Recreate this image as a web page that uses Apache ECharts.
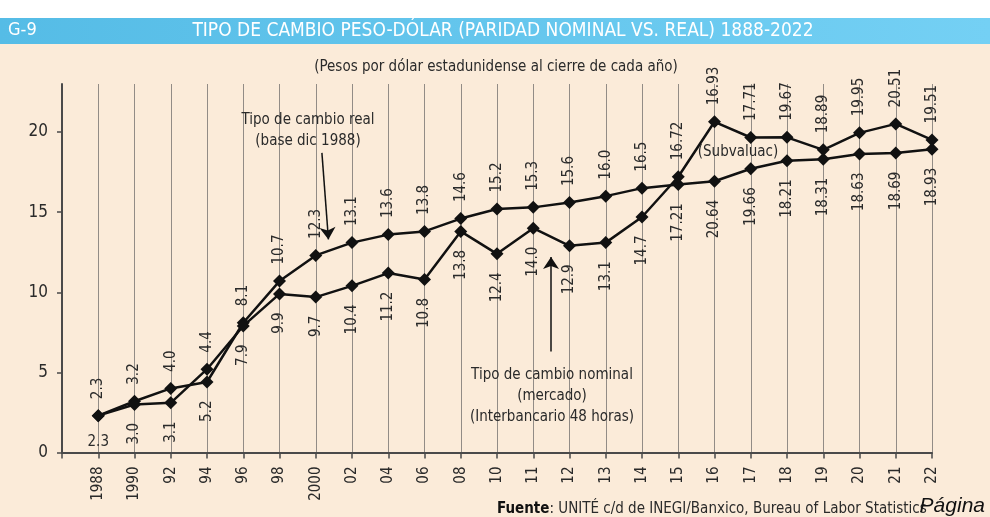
<!DOCTYPE html>
<html>
<head>
<meta charset="utf-8">
<script src="https://cdn.jsdelivr.net/npm/echarts@6/dist/echarts.min.js"></script>
<style>
html,body{margin:0;padding:0;background:#fbebd9;}
#chart{width:990px;height:517px;}
</style>
</head>
<body>
<div id="chart"></div>
<script>
// ---- data ----
const years = ['1988','1990','92','94','96','98','2000','02','04','06','08','10','11','12','13','14','15','16','17','18','19','20','21','22'];
const realRate = [2.3,3.2,4.0,4.4,8.1,10.7,12.3,13.1,13.6,13.8,14.6,15.2,15.3,15.6,16.0,16.5,16.72,16.93,17.71,18.21,18.31,18.63,18.69,18.93];
const nominalRate = [2.3,3.0,3.1,5.2,7.9,9.9,9.7,10.4,11.2,10.8,13.8,12.4,14.0,12.9,13.1,14.7,17.21,20.64,19.66,19.67,18.89,19.95,20.51,19.51];
const upperLabels = ['2.3','3.2','4.0','4.4','8.1','10.7','12.3','13.1','13.6','13.8','14.6','15.2','15.3','15.6','16.0','16.5','16.72','16.93','17.71','19.67','18.89','19.95','20.51','19.51'];
const lowerLabels = ['2.3','3.0','3.1','5.2','7.9','9.9','9.7','10.4','11.2','10.8','13.8','12.4','14.0','12.9','13.1','14.7','17.21','20.64','19.66','18.21','18.31','18.63','18.69','18.93'];
const yTicks = [0,5,10,15,20];

const FONT = "'Liberation Sans Narrow','DejaVu Sans Condensed','Roboto Condensed','Liberation Sans',sans-serif";
const TXT = '#2a2a2a';

function buildData(own, other){
  return own.map((v,i)=>{
    const isUpper = own === realRate ? v >= other[i] : v > other[i];
    let label;
    if (isUpper) {
      label = {show:true, formatter: upperLabels[i], position:'top', rotate:90, align:'left', verticalAlign:'middle', distance:10};
    } else if (i === 0) {
      label = {show:true, formatter: lowerLabels[i], position:'bottom', rotate:0, align:'center', verticalAlign:'top', distance:12};
    } else {
      label = {show:true, formatter: lowerLabels[i], position:'bottom', rotate:90, align:'right', verticalAlign:'middle', distance:12};
    }
    return {value:[i, v], label};
  });
}

const lineStyleCommon = {
  type:'line', symbol:'diamond', symbolSize:13,
  lineStyle:{color:'#111', width:2.5},
  itemStyle:{color:'#111'},
  label:{fontFamily:FONT, fontSize:15, color:TXT},
  z:5
};

const chart = echarts.init(document.getElementById('chart'), null, {renderer:'canvas'});
chart.setOption({
  backgroundColor:'#fbebd9',
  animation:false,
  grid:{left:62, right:58, top:84, bottom:64.5},
  xAxis:{
    type:'value', min:-1, max:23, interval:1,
    axisLine:{show:true, onZero:false, lineStyle:{color:'#4a4a4a', width:2}},
    axisTick:{show:true, length:6, lineStyle:{color:'#4a4a4a', width:1.5}},
    splitLine:{show:true, lineStyle:{color:'#928c86', width:1}},
    axisLabel:{
      rotate:90, margin:14, fontFamily:FONT, fontSize:15, color:TXT,
      formatter:(v)=> (v>=0 && v<years.length) ? years[v] : ''
    }
  },
  yAxis:{
    type:'value', min:0, max:23, interval:5,
    axisLine:{show:true, onZero:false, lineStyle:{color:'#4a4a4a', width:2}},
    axisTick:{show:true, inside:false, length:5, customValues:yTicks, lineStyle:{color:'#4a4a4a', width:1.5}},
    splitLine:{show:false},
    axisLabel:{customValues:yTicks, margin:14, fontFamily:FONT, fontSize:17, color:TXT}
  },
  series:[
    Object.assign({}, lineStyleCommon, {
      name:'Tipo de cambio real',
      data:buildData(realRate, nominalRate),
      markLine:{
        silent:true, symbol:['none','arrow'], symbolSize:12,
        label:{show:false},
        lineStyle:{color:'#111', width:1.5, type:'solid'},
        itemStyle:{color:'#111'},
        data:[
          [{coord:[6.17,18.7]},{coord:[6.35,13.3]}],
          [{coord:[12.49,6.3]},{coord:[12.49,12.2]}]
        ]
      }
    }),
    Object.assign({}, lineStyleCommon, {
      name:'Tipo de cambio nominal',
      data:buildData(nominalRate, realRate)
    })
  ],
  graphic:[
    {type:'rect', shape:{x:0,y:0,width:990,height:18}, style:{fill:'#ffffff'}, z:0},
    {type:'rect', shape:{x:0,y:18,width:990,height:26},
      style:{fill:new echarts.graphic.LinearGradient(0,0,1,0,[{offset:0,color:'#55bce6'},{offset:1,color:'#74d0f4'}])}, z:0},
    {type:'text', left:8, top:21, style:{text:'G-9', fill:'#ffffff', font:"18px "+FONT}, z:1},
    {type:'text', x:503, y:31, style:{text:'TIPO DE CAMBIO PESO-DÓLAR (PARIDAD NOMINAL VS. REAL) 1888-2022', fill:'#ffffff', font:"19px "+FONT, textAlign:'center', textVerticalAlign:'middle'}, z:1},
    {type:'text', x:496, y:67, style:{text:'(Pesos por dólar estadunidense al cierre de cada año)', fill:TXT, font:"15px "+FONT, textAlign:'center', textVerticalAlign:'middle'}, z:1},
    {type:'text', x:308, y:131, style:{text:'Tipo de cambio real\n(base dic 1988)', fill:TXT, font:"15px "+FONT, textAlign:'center', textVerticalAlign:'middle', lineHeight:21}, z:6},
    {type:'text', x:552, y:396, style:{text:'Tipo de cambio nominal\n(mercado)\n(Interbancario 48 horas)', fill:TXT, font:"15px "+FONT, textAlign:'center', textVerticalAlign:'middle', lineHeight:21}, z:6},
    {type:'text', x:738, y:152, style:{text:'(Subvaluac)', fill:TXT, font:"15px "+FONT, textAlign:'center', textVerticalAlign:'middle'}, z:6},
    {type:'text', x:497, y:509, style:{
      text:'{b|Fuente}: UNITÉ c/d de INEGI/Banxico, Bureau of Labor Statistics',
      fill:TXT, font:"15px "+FONT, textVerticalAlign:'middle',
      rich:{b:{fontWeight:'bold', fontFamily:FONT, fontSize:15, fill:'#111'}}
    }, z:6},
    {type:'text', x:985, y:506, style:{text:'Página', fill:'#111', font:"italic 21px 'Liberation Sans',Arial,sans-serif", textAlign:'right', textVerticalAlign:'middle'}, z:7}
  ]
});
</script>
</body>
</html>
